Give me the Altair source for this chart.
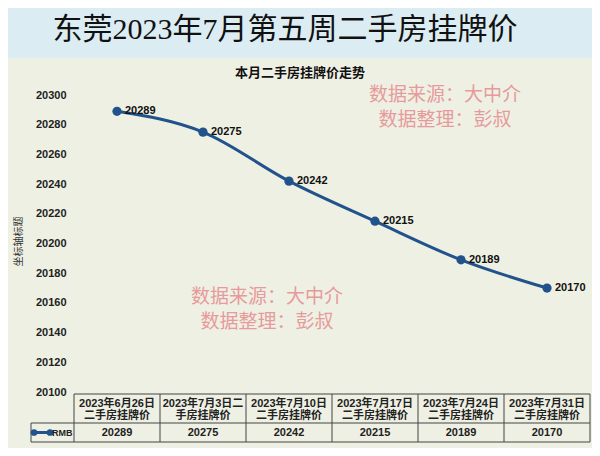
import altair as alt
import pandas as pd

# ---- data ----
TITLE = "东莞2023年7月第五周二手房挂牌价"
CHART_TITLE = "本月二手房挂牌价走势"
Y_TITLE = "坐标轴标题"
SERIES = "RMB"
dates = [
    "2023年6月26日\n二手房挂牌价",
    "2023年7月3日二\n手房挂牌价",
    "2023年7月10日\n二手房挂牌价",
    "2023年7月17日\n二手房挂牌价",
    "2023年7月24日\n二手房挂牌价",
    "2023年7月31日\n二手房挂牌价",
]
prices = [20289, 20275, 20242, 20215, 20189, 20170]
watermark = ["数据来源：大中介", "数据整理：彭叔"]
y_ticks = [20100, 20120, 20140, 20160, 20180, 20200, 20220, 20240, 20260, 20280, 20300]

df = pd.DataFrame({"i": list(range(len(prices))), "label": dates, "price": prices})
bounds = pd.DataFrame({"i": [k - 0.5 for k in range(len(prices) + 1)]})

# ---- styling ----
W, H = 516, 297
LINE = "#22528c"
SANS = "Liberation Sans, Noto Sans CJK SC"
SERIF = "Liberation Serif, Noto Sans CJK SC"
PINK = "#e79a9c"

xs = alt.X("i:Q", scale=alt.Scale(domain=[-0.5, 5.5]), axis=None)
ys = alt.Y(
    "price:Q",
    scale=alt.Scale(domain=[20100, 20300], nice=False, zero=False),
    axis=alt.Axis(
        values=y_ticks, format="d", grid=False, domain=False, ticks=False, zindex=1,
        labelFont="Liberation Sans", labelFontSize=11, labelFontWeight="bold",
        labelColor="#222222", labelPadding=8,
        title=Y_TITLE, titleFont="Noto Sans CJK SC", titleFontSize=10,
        titleFontWeight="normal", titleColor="#333333", titleAngle=270,
        titleX=-56, titleY=146, titleAlign="center", titleBaseline="middle",
    ),
)

one = pd.DataFrame({"t": [TITLE]})


def text_layer(txt, x, y, **kw):
    return alt.Chart(pd.DataFrame({"t": [txt]})).mark_text(**kw).encode(
        x=alt.value(x), y=alt.value(y), text="t:N"
    )


bg = alt.Chart(one).mark_rect(color="#eef0e3").encode(
    x=alt.value(-71), x2=alt.value(523), y=alt.value(-37), y2=alt.value(356)
)

title = text_layer(TITLE, 211, -65, font=SERIF, fontSize=30, color="#111111",
                   baseline="middle", align="center")
ctitle = text_layer(CHART_TITLE, 226, -22, font="Noto Sans CJK SC", fontSize=13,
                    fontWeight="bold", color="#111111", baseline="middle", align="center")

wm_text = "\n".join(watermark)
wm_top = text_layer(wm_text, 371, 0, font=SERIF, fontSize=19, color=PINK,
                    baseline="middle", align="center", lineBreak="\n", lineHeight=25)
wm_bot = text_layer(wm_text, 193, 202, font=SERIF, fontSize=19, color=PINK,
                    baseline="middle", align="center", lineBreak="\n", lineHeight=25)

line = alt.Chart(df).mark_line(
    color=LINE, strokeWidth=3, interpolate="monotone"
).encode(x=xs, y=ys)

pts = alt.Chart(df).mark_circle(color=LINE, size=85, opacity=1).encode(x=xs, y=ys)

lbl = alt.Chart(df).mark_text(
    font=SANS, fontSize=11, fontWeight="bold", color="#111111",
    align="left", baseline="middle", dx=8
).encode(x=xs, y=ys, text="price:Q")

# ---- data table ----
TOP, MID, BOT = 299, 328, 347
TBL = "#444444"
vrules = alt.Chart(bounds).mark_rule(color=TBL, strokeWidth=1).encode(
    x=xs, y=alt.value(TOP), y2=alt.value(BOT)
)
hrule_top = alt.Chart(one).mark_rule(color=TBL, strokeWidth=1).encode(
    x=alt.value(0), x2=alt.value(W), y=alt.value(TOP)
)
hrule_mid = alt.Chart(one).mark_rule(color=TBL, strokeWidth=1).encode(
    x=alt.value(-43), x2=alt.value(W), y=alt.value(MID)
)
hrule_bot = alt.Chart(one).mark_rule(color=TBL, strokeWidth=1).encode(
    x=alt.value(-43), x2=alt.value(W), y=alt.value(BOT)
)
vrule_left = alt.Chart(one).mark_rule(color=TBL, strokeWidth=1).encode(
    x=alt.value(-43), y=alt.value(MID), y2=alt.value(BOT)
)

hdr = alt.Chart(df).mark_text(
    font=SANS, fontSize=11, fontWeight="bold", color="#222222",
    align="center", baseline="middle", lineBreak="\n", lineHeight=12
).encode(x=xs, y=alt.value(TOP + 10), text="label:N")

vals = alt.Chart(df).mark_text(
    font=SANS, fontSize=11, fontWeight="bold", color="#222222",
    align="center", baseline="middle"
).encode(x=xs, y=alt.value((MID + BOT) / 2 + 0.5), text="price:Q")

LY = (MID + BOT) / 2
leg_line = alt.Chart(one).mark_rule(color=LINE, strokeWidth=3).encode(
    x=alt.value(-40), x2=alt.value(-24), y=alt.value(LY)
)
leg_p1 = alt.Chart(one).mark_circle(color=LINE, size=45, opacity=1).encode(
    x=alt.value(-40), y=alt.value(LY)
)
leg_p2 = alt.Chart(one).mark_circle(color=LINE, size=45, opacity=1).encode(
    x=alt.value(-24), y=alt.value(LY)
)
leg_txt = text_layer(SERIES, -22, LY + 0.5, font=SANS, fontSize=9, fontWeight="bold",
                     color="#222222", align="left", baseline="middle")

chart = alt.layer(
    bg, title, ctitle, wm_top, wm_bot,
    vrules, hrule_top, hrule_mid, hrule_bot, vrule_left, hdr, vals,
    leg_line, leg_p1, leg_p2, leg_txt,
    line, pts, lbl,
).properties(
    width=W, height=H,
    background="#dbedf3",
    padding={"left": 66, "top": 87, "right": 2, "bottom": 56},
    autosize=alt.AutoSizeParams(type="none"),
).configure_view(strokeWidth=0)

chart.save("out.html", embed_options={"renderer": "svg", "actions": False})
